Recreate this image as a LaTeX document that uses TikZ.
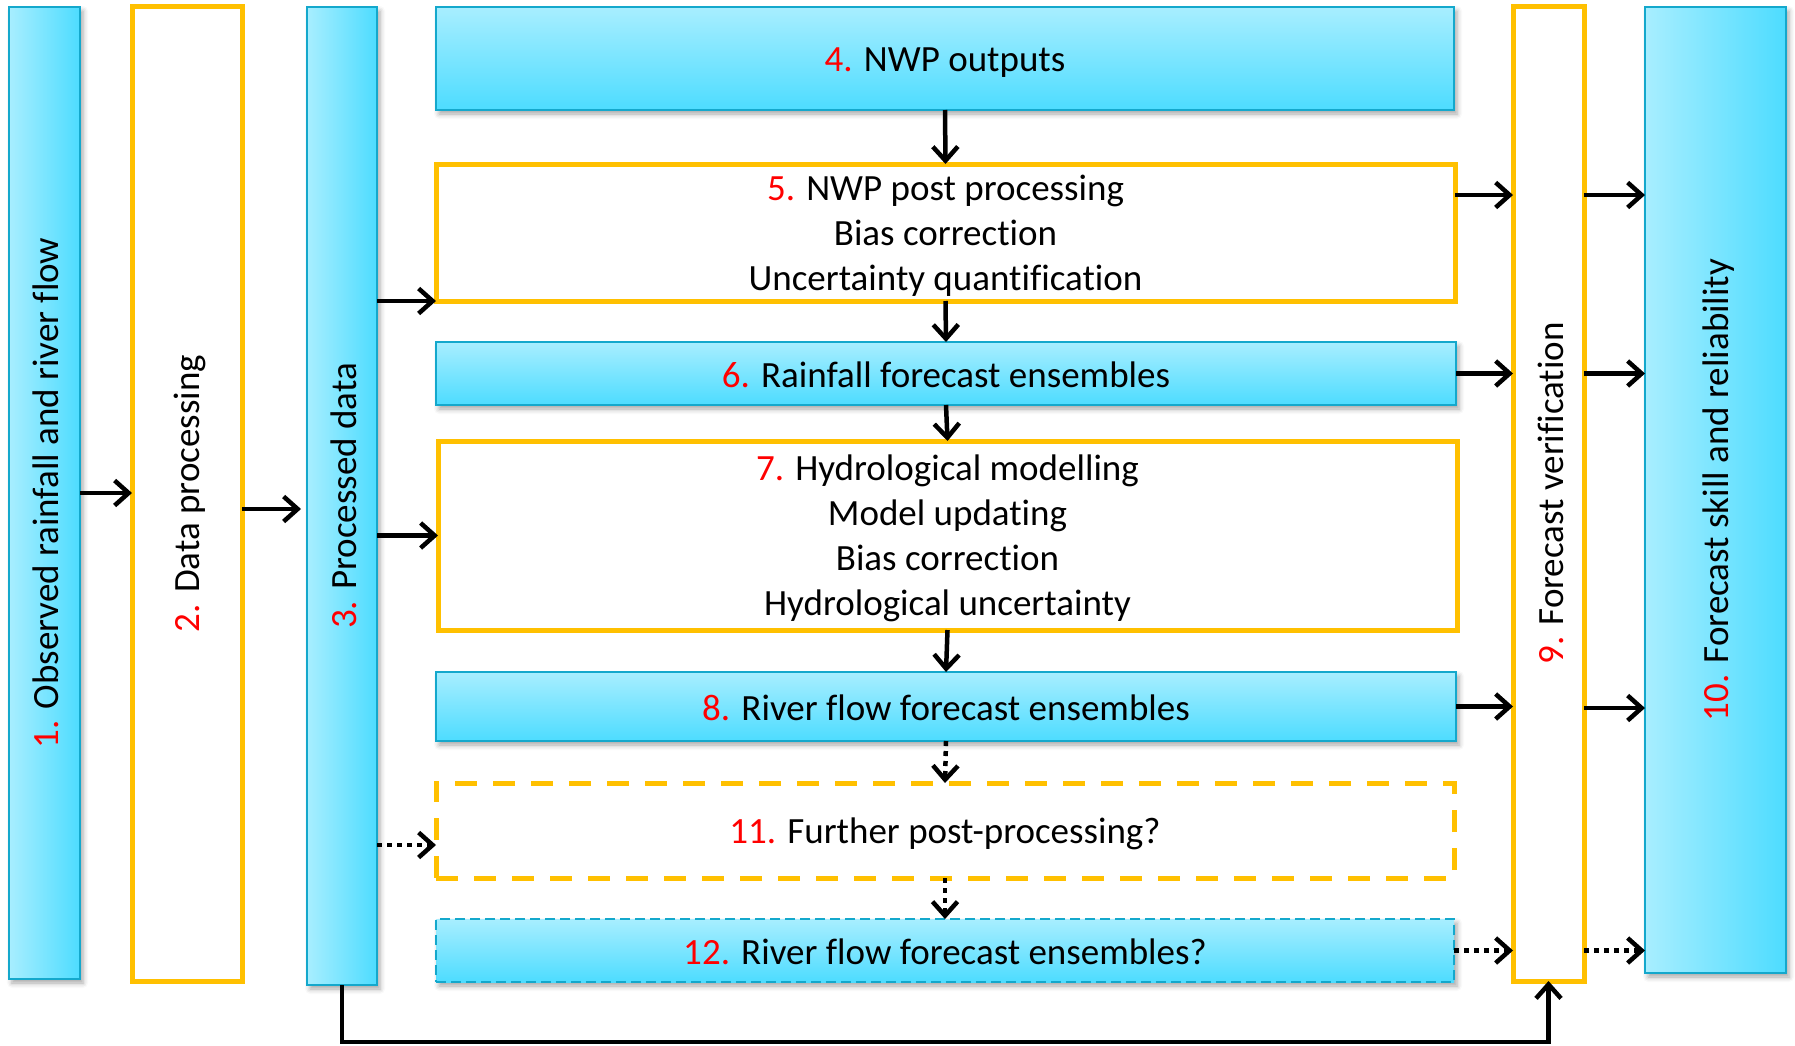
\documentclass[tikz,border=0pt]{standalone}
\usepackage{fontspec}
\setmainfont{Carlito}[RawFeature={-liga;-clig;-calt;-dlig}]
\usetikzlibrary{arrows.meta,shadows.blur,calc}
\definecolor{cylight}{HTML}{A8EEFF}
\definecolor{cydark}{HTML}{4DDCFF}
\definecolor{cyborder}{HTML}{14A8CC}
\definecolor{orng}{HTML}{FFC000}
\definecolor{numred}{HTML}{FF0000}
\tikzset{
  shad/.style={blur shadow={shadow xshift=3pt,shadow yshift=-4pt,shadow blur radius=5pt,shadow opacity=35}},
  cyH/.style={draw=cyborder,line width=2pt,top color=cylight,bottom color=cydark,shad,inner sep=0pt,outer sep=0pt},
  cyV/.style={draw=cyborder,line width=2pt,left color=cylight,right color=cydark,shad,inner sep=0pt,outer sep=0pt},
  orbox/.style={draw=orng,line width=5pt,fill=white,inner sep=0pt,outer sep=0pt},
  txt/.style={font=\fontsize{37}{45}\selectfont,align=center,inner sep=0pt},
  vtxt/.style={txt,rotate=90},
  arr/.style={line width=4.5pt,-{Straight Barb[length=14pt,width=25pt,line width=4.5pt]}},
  dotarr/.style={arr,dash pattern=on 5pt off 5pt},
}
\newcommand{\nr}[1]{\textcolor{numred}{#1}}
\begin{document}
\begin{tikzpicture}[x=1pt,y=-1pt]
\useasboundingbox (0,0) rectangle (1795,1045);
% vertical boxes
\node[cyV,minimum width=71,minimum height=972] (n1) at (44.5,493) {};
\node[vtxt] (t1) at ([xshift=1pt]n1.center) {\nr{1.} Observed rainfall and river flow};
\node[orbox,minimum width=110,minimum height=975] (n2) at (187,493.5) {};
\node[vtxt] (t2) at ([xshift=3pt]n2.center) {\nr{2.} Data processing};
\node[cyV,minimum width=70,minimum height=978] (n3) at (342,496) {};
\node[vtxt] (t3) at ([xshift=2pt]n3.center) {\nr{3.} Processed data};
\node[orbox,minimum width=71,minimum height=975] (n9) at (1548.5,493.5) {};
\node[vtxt] (t9) at ([xshift=2pt]n9.center) {\nr{9.} Forecast verification};
\node[cyV,minimum width=141,minimum height=966] (n10) at (1715.5,490) {};
\node[vtxt] (t10) at ([xshift=3pt]n10.center) {\nr{10.} Forecast skill and reliability};
% horizontal boxes
\node[cyH,minimum width=1018,minimum height=103] (n4) at (945,58.5) {};
\node[txt] (t4) at ([yshift=-4pt]n4.center) {\nr{4.} NWP outputs};
\node[orbox,minimum width=1019,minimum height=137] (n5) at (945.5,232.5) {};
\node[txt] (t5) at ([yshift=-3pt]n5.center) {\nr{5.} NWP post processing\\Bias correction\\Uncertainty quantification};
\node[cyH,minimum width=1020,minimum height=63] (n6) at (946,373.5) {};
\node[txt] (t6) at ([yshift=-1pt]n6.center) {\nr{6.} Rainfall forecast ensembles};
\node[orbox,minimum width=1019,minimum height=189] (n7) at (947.5,535.5) {};
\node[txt] (t7) at ([yshift=-3pt]n7.center) {\nr{7.} Hydrological modelling\\Model updating\\Bias correction\\Hydrological uncertainty};
\node[cyH,minimum width=1020,minimum height=69] (n8) at (946,706.5) {};
\node[txt] (t8) at ([yshift=-1pt]n8.center) {\nr{8.} River flow forecast ensembles};
\node[orbox,dash pattern=on 22pt off 16pt,minimum width=1018,minimum height=95] (n11) at (945,830.5) {};
\node[txt] (t11) at ([yshift=-3pt]n11.center) {\nr{11.} Further post-processing?};
\node[cyH,dash pattern=on 10pt off 5pt,minimum width=1018,minimum height=63] (n12) at (945,950.5) {};
\node[txt] (t12) at ([yshift=-1pt]n12.center) {\nr{12.} River flow forecast ensembles?};
% connectors
\draw[arr] (n1.east |- 0,493) -- (n2.west |- 0,493);
\draw[arr,shorten >=6pt] (n2.east |- 0,509) -- (n3.west |- 0,509);
\draw[arr] (n3.east |- n5.south west) -- (n5.south west);
\draw[arr] (n3.east |- n7.west) -- (n7.west);
\draw[dotarr] (n3.east |- 0,845) -- (n11.west |- 0,845);
\draw[arr] (n4.south) -- (n5.north);
\draw[arr] (n5.south) -- (n6.north);
\draw[arr] (n6.south) -- (n7.north);
\draw[arr] (n7.south) -- (n8.north);
\draw[dotarr] (n8.south) -- (n11.north);
\draw[dotarr] (n11.south) -- (n12.north);
\draw[arr] (n5.east |- 0,195) -- (n9.west |- 0,195);
\draw[arr] (n9.east |- 0,195) -- (n10.west |- 0,195);
\draw[arr] (n6.east) -- (n9.west |- n6.east);
\draw[arr] (n9.east |- n6.east) -- (n10.west |- n6.east);
\draw[arr] (n8.east) -- (n9.west |- n8.east);
\draw[arr] (n9.east |- 0,708) -- (n10.west |- 0,708);
\draw[dotarr] (n12.east) -- (n9.west |- n12.east);
\draw[dotarr] (n9.east |- n12.east) -- (n10.west |- n12.east);
\draw[arr] (n3.south) -- (n3.south |- 0,1042) -| (n9.south);
\end{tikzpicture}
\end{document}
